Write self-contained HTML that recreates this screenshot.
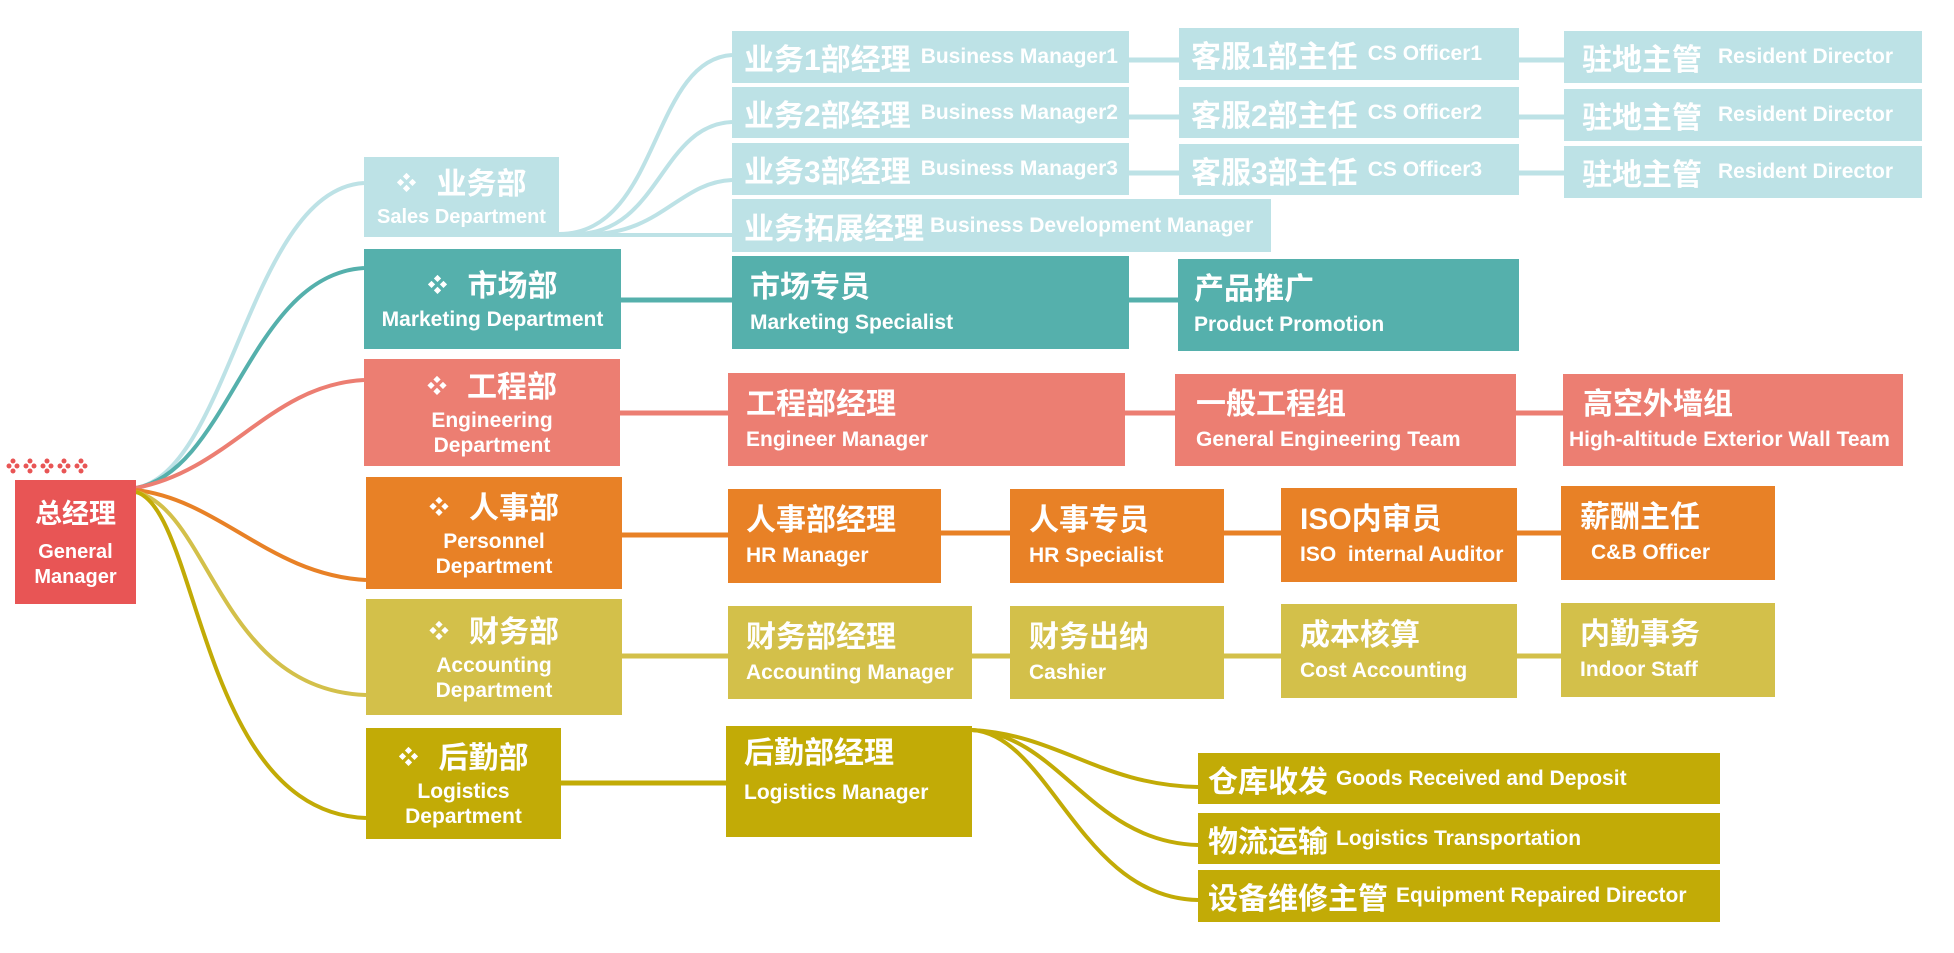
<!DOCTYPE html>
<html><head><meta charset="utf-8"><style>
*{margin:0;padding:0;box-sizing:border-box}
body{width:1954px;height:953px;background:#fff;position:relative;overflow:hidden;font-family:"Liberation Sans","Noto Sans CJK SC",sans-serif;font-weight:bold;color:#fff}
.b{position:absolute;display:flex;align-items:center;padding-left:12px;white-space:nowrap}
.b .c{font-size:30px}
.b .e{font-size:21px;margin-left:10px}
.t{flex-direction:column;align-items:flex-start;justify-content:center;padding-left:18px}
.t .c{font-size:30px;line-height:40px}
.t .e{font-size:21px;margin-left:0;line-height:30px}
.d{flex-direction:column;align-items:center;justify-content:center;padding-left:0;text-align:center}
.d .c{font-size:30px;line-height:40px}
.d .c span{font-size:20px;margin-right:20px;vertical-align:4px}
.d .e{font-size:21px;margin-left:0;line-height:25px;white-space:normal}
.lb{background:#bde2e6}.tl{background:#55b0ac}.sa{background:#ec7e72}.or{background:#e88126}.ye{background:#d3c04a}.ol{background:#c2ab06}
</style></head><body>
<svg width="1954" height="953" style="position:absolute;left:0;top:0">
<g fill="none" stroke-width="4">
<path d="M136 488 C230 470,250 190,364 183" stroke="#bde2e6"/>
<path d="M136 488 C230 470,250 275,364 268" stroke="#55b0ac"/>
<path d="M136 488 C230 470,270 385,364 380" stroke="#ec7e72"/>
<path d="M136 490 C220 500,270 575,366 580" stroke="#e88126"/>
<path d="M136 492 C210 510,220 690,366 695" stroke="#d3c04a"/>
<path d="M136 492 C200 510,200 812,366 818" stroke="#c2ab06"/>
<path d="M559 234 C660 234,650 60,732 55" stroke="#bde2e6"/>
<path d="M575 234 C660 234,660 125,732 122" stroke="#bde2e6"/>
<path d="M590 234 C660 234,680 182,732 180" stroke="#bde2e6"/>
<path d="M559 235 L732 235" stroke="#bde2e6"/>
<path d="M972 730 C1060 735,1100 785,1198 787" stroke="#c2ab06"/>
<path d="M972 730 C1060 735,1090 842,1198 845" stroke="#c2ab06"/>
<path d="M972 730 C1050 735,1080 898,1198 900" stroke="#c2ab06"/>
</g>
<g stroke-width="5">
<line x1="1129" y1="60" x2="1179" y2="60" stroke="#bde2e6"/>
<line x1="1129" y1="117" x2="1179" y2="117" stroke="#bde2e6"/>
<line x1="1129" y1="173" x2="1179" y2="173" stroke="#bde2e6"/>
<line x1="1519" y1="60" x2="1564" y2="60" stroke="#bde2e6"/>
<line x1="1519" y1="117" x2="1564" y2="117" stroke="#bde2e6"/>
<line x1="1519" y1="173" x2="1564" y2="173" stroke="#bde2e6"/>
<line x1="621" y1="300" x2="732" y2="300" stroke="#55b0ac"/>
<line x1="1129" y1="300" x2="1178" y2="300" stroke="#55b0ac"/>
<line x1="620" y1="413" x2="728" y2="413" stroke="#ec7e72"/>
<line x1="1125" y1="413" x2="1175" y2="413" stroke="#ec7e72"/>
<line x1="1516" y1="413" x2="1563" y2="413" stroke="#ec7e72"/>
<line x1="622" y1="535" x2="728" y2="535" stroke="#e88126"/>
<line x1="941" y1="533" x2="1010" y2="533" stroke="#e88126"/>
<line x1="1224" y1="533" x2="1281" y2="533" stroke="#e88126"/>
<line x1="1517" y1="533" x2="1561" y2="533" stroke="#e88126"/>
<line x1="622" y1="656" x2="728" y2="656" stroke="#d3c04a"/>
<line x1="972" y1="656" x2="1010" y2="656" stroke="#d3c04a"/>
<line x1="1224" y1="656" x2="1281" y2="656" stroke="#d3c04a"/>
<line x1="1517" y1="656" x2="1561" y2="656" stroke="#d3c04a"/>
<line x1="561" y1="783" x2="726" y2="783" stroke="#c2ab06"/>
</g>
<g fill="#e85555">
<circle cx="9" cy="466" r="2.5"/><circle cx="13" cy="461" r="2.5"/><circle cx="17" cy="466" r="2.5"/><circle cx="13" cy="471" r="2.5"/>
<circle cx="26" cy="466" r="2.5"/><circle cx="30" cy="461" r="2.5"/><circle cx="34" cy="466" r="2.5"/><circle cx="30" cy="471" r="2.5"/>
<circle cx="43" cy="466" r="2.5"/><circle cx="47" cy="461" r="2.5"/><circle cx="51" cy="466" r="2.5"/><circle cx="47" cy="471" r="2.5"/>
<circle cx="60" cy="466" r="2.5"/><circle cx="64" cy="461" r="2.5"/><circle cx="68" cy="466" r="2.5"/><circle cx="64" cy="471" r="2.5"/>
<circle cx="77" cy="466" r="2.5"/><circle cx="81" cy="461" r="2.5"/><circle cx="85" cy="466" r="2.5"/><circle cx="81" cy="471" r="2.5"/>
</g>
</svg>

<div class="b d" style="left:15px;top:480px;width:121px;height:124px;background:#e85555"><div class="c" style="font-size:27px">总经理</div><div class="e" style="margin-top:6px;font-size:20px">General Manager</div></div>

<div class="b d lb" style="left:364px;top:157px;width:195px;height:80px"><div class="c"><span>❖</span>业务部</div><div class="e" style="font-size:20px">Sales Department</div></div>
<div class="b d tl" style="left:364px;top:249px;width:257px;height:100px"><div class="c"><span>❖</span>市场部</div><div class="e">Marketing Department</div></div>
<div class="b d sa" style="left:364px;top:359px;width:256px;height:107px"><div class="c"><span>❖</span>工程部</div><div class="e" style="width:130px">Engineering Department</div></div>
<div class="b d or" style="left:366px;top:477px;width:256px;height:112px"><div class="c"><span>❖</span>人事部</div><div class="e" style="width:130px">Personnel Department</div></div>
<div class="b d ye" style="left:366px;top:599px;width:256px;height:116px"><div class="c"><span>❖</span>财务部</div><div class="e" style="width:130px">Accounting Department</div></div>
<div class="b d ol" style="left:366px;top:728px;width:195px;height:111px"><div class="c"><span>❖</span>后勤部</div><div class="e" style="width:130px">Logistics Department</div></div>

<div class="b lb" style="left:732px;top:31px;width:397px;height:52px"><span class="c">业务1部经理</span><span class="e">Business Manager1</span></div>
<div class="b lb" style="left:732px;top:87px;width:397px;height:51px"><span class="c">业务2部经理</span><span class="e">Business Manager2</span></div>
<div class="b lb" style="left:732px;top:143px;width:397px;height:52px"><span class="c">业务3部经理</span><span class="e">Business Manager3</span></div>
<div class="b lb" style="left:732px;top:199px;width:539px;height:53px"><span class="c">业务拓展经理</span><span class="e" style="margin-left:6px">Business Development Manager</span></div>

<div class="b lb" style="left:1179px;top:28px;width:340px;height:52px"><span class="c">客服1部主任</span><span class="e">CS Officer1</span></div>
<div class="b lb" style="left:1179px;top:87px;width:340px;height:51px"><span class="c">客服2部主任</span><span class="e">CS Officer2</span></div>
<div class="b lb" style="left:1179px;top:144px;width:340px;height:51px"><span class="c">客服3部主任</span><span class="e">CS Officer3</span></div>

<div class="b lb" style="left:1564px;top:31px;width:358px;height:52px;padding-left:18px"><span class="c">驻地主管</span><span class="e" style="margin-left:16px">Resident Director</span></div>
<div class="b lb" style="left:1564px;top:89px;width:358px;height:52px;padding-left:18px"><span class="c">驻地主管</span><span class="e" style="margin-left:16px">Resident Director</span></div>
<div class="b lb" style="left:1564px;top:146px;width:358px;height:52px;padding-left:18px"><span class="c">驻地主管</span><span class="e" style="margin-left:16px">Resident Director</span></div>

<div class="b t tl" style="left:732px;top:256px;width:397px;height:93px"><div class="c">市场专员</div><div class="e">Marketing Specialist</div></div>
<div class="b t tl" style="left:1178px;top:259px;width:341px;height:92px;padding-left:16px"><div class="c">产品推广</div><div class="e">Product Promotion</div></div>

<div class="b t sa" style="left:728px;top:373px;width:397px;height:93px"><div class="c">工程部经理</div><div class="e">Engineer Manager</div></div>
<div class="b t sa" style="left:1175px;top:374px;width:341px;height:92px;padding-left:21px"><div class="c">一般工程组</div><div class="e">General Engineering Team</div></div>
<div class="b t sa" style="left:1563px;top:374px;width:340px;height:92px;padding-left:6px"><div class="c" style="padding-left:14px">高空外墙组</div><div class="e">High-altitude Exterior Wall Team</div></div>

<div class="b t or" style="left:728px;top:489px;width:213px;height:94px"><div class="c">人事部经理</div><div class="e">HR Manager</div></div>
<div class="b t or" style="left:1010px;top:489px;width:214px;height:94px;padding-left:19px"><div class="c">人事专员</div><div class="e">HR Specialist</div></div>
<div class="b t or" style="left:1281px;top:488px;width:236px;height:94px;padding-left:19px"><div class="c">ISO内审员</div><div class="e">ISO&nbsp; internal Auditor</div></div>
<div class="b t or" style="left:1561px;top:486px;width:214px;height:94px;padding-left:19px"><div class="c">薪酬主任</div><div class="e" style="padding-left:11px">C&amp;B Officer</div></div>

<div class="b t ye" style="left:728px;top:606px;width:244px;height:93px"><div class="c">财务部经理</div><div class="e">Accounting Manager</div></div>
<div class="b t ye" style="left:1010px;top:606px;width:214px;height:93px;padding-left:19px"><div class="c">财务出纳</div><div class="e">Cashier</div></div>
<div class="b t ye" style="left:1281px;top:604px;width:236px;height:94px;padding-left:19px"><div class="c">成本核算</div><div class="e">Cost Accounting</div></div>
<div class="b t ye" style="left:1561px;top:603px;width:214px;height:94px;padding-left:19px"><div class="c">内勤事务</div><div class="e">Indoor Staff</div></div>

<div class="b t ol" style="left:726px;top:726px;width:246px;height:111px;justify-content:flex-start;padding-top:8px"><div class="c">后勤部经理</div><div class="e" style="margin-top:4px">Logistics Manager</div></div>
<div class="b ol" style="left:1198px;top:753px;width:522px;height:51px;padding-left:10px"><span class="c">仓库收发</span><span class="e" style="margin-left:8px">Goods Received and Deposit</span></div>
<div class="b ol" style="left:1198px;top:813px;width:522px;height:51px;padding-left:10px"><span class="c">物流运输</span><span class="e" style="margin-left:8px">Logistics Transportation</span></div>
<div class="b ol" style="left:1198px;top:870px;width:522px;height:52px;padding-left:10px"><span class="c">设备维修主管</span><span class="e" style="margin-left:8px">Equipment Repaired Director</span></div>
</body></html>
